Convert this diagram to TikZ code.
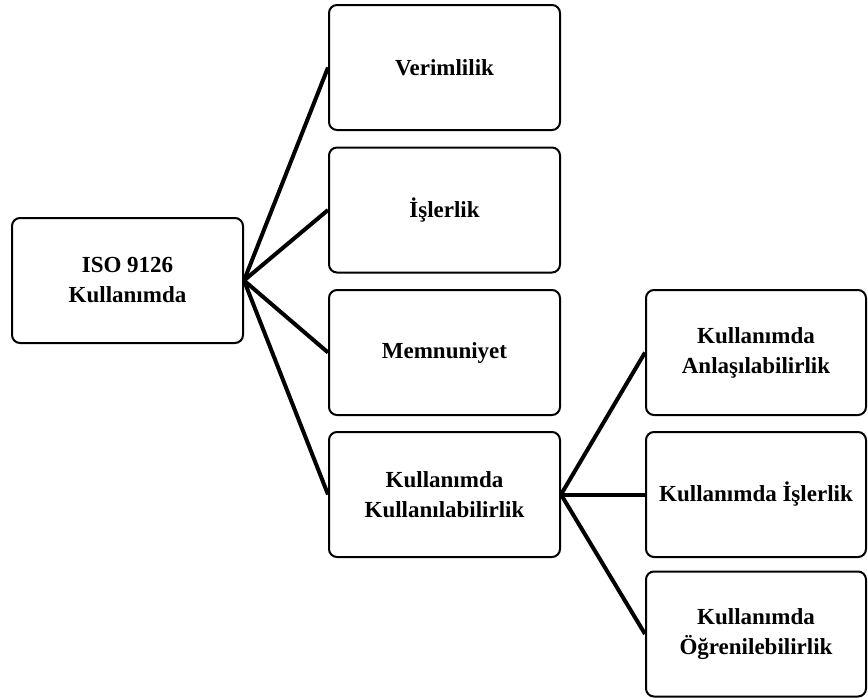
\documentclass[tikz,border=0pt]{standalone}
\usepackage{fontspec}
\setmainfont{Liberation Serif}

\begin{document}
\begin{tikzpicture}[x=0.5pt,y=-0.5pt,
  font=\bfseries\fontsize{11.5}{15}\selectfont,
  box/.style={draw,line width=1pt,rounded corners=4pt,align=center,
    minimum width=115.5pt,minimum height=62.5pt,inner sep=2pt},
  wide/.style={box,minimum width=110pt},
  link/.style={line width=2pt}]
\useasboundingbox (0,0) rectangle (868,697);
%----------------------------
% Root
%----------------------------
\node[box] (root) at (127.5,280.5) {ISO 9126\\Kullanımda};

%----------------------------
% First level
%----------------------------
\node[box] (verim) at (444.5,67.5) {Verimlilik};
\node[box] (isler) at (444.5,210) {İşlerlik};
\node[box] (memnun) at (444.5,352.5) {Memnuniyet};
\node[box] (kullan) at (444.5,494.5) {Kullanımda\\Kullanılabilirlik};

%----------------------------
% Second level
%----------------------------
\node[wide] (anla) at (756,352.5) {Kullanımda\\Anlaşılabilirlik};
\node[wide] (kisler) at (756,494.5) {Kullanımda İşlerlik};
\node[wide] (ogren) at (756,634) {Kullanımda\\Öğrenilebilirlik};

% Connectors
\foreach \n in {verim,isler,memnun,kullan}
  \draw[link] (root.east) -- (\n.west);
\foreach \n in {anla,kisler,ogren}
  \draw[link] (kullan.east) -- (\n.west);
\end{tikzpicture}
\end{document}
